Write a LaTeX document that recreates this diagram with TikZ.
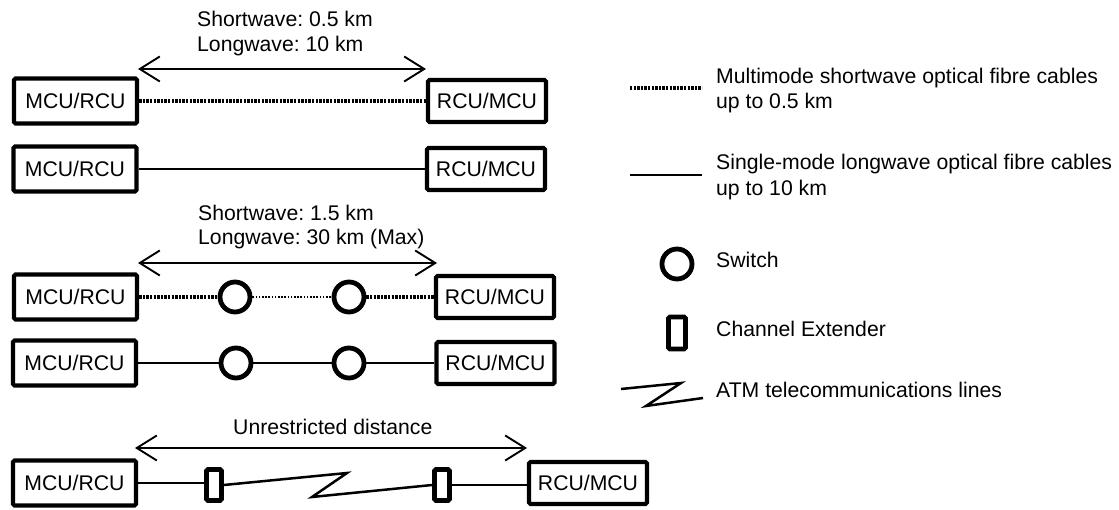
\documentclass[tikz,border=0pt]{standalone}
\usepackage{fontspec}
\setmainfont{Liberation Sans}
\usetikzlibrary{arrows.meta}
\frenchspacing

\tikzset{
  lbl/.style={anchor=base west, inner sep=0pt, font=\fontsize{21.2}{25}\selectfont},
  unitbox/.style={draw, line width=4.2pt, rounded corners=1.5pt, inner sep=0pt,
    minimum height=42pt, font=\fontsize{21.2}{25}\selectfont},
  leftunit/.style={unitbox, minimum width=123pt, minimum height=45pt},
  rightunit/.style={unitbox, minimum width=118pt},
  switchnode/.style={draw, circle, line width=4.8pt, minimum size=30pt, inner sep=0pt, fill=white},
  extender/.style={draw, line width=4.8pt, rounded corners=1.5pt, minimum width=15pt,
    minimum height=31pt, inner sep=0pt, fill=white},
  longcable/.style={line width=2.3pt},
  shortcable/.style={line width=3.3pt, dash pattern=on 2.4pt off 1.2pt},
  thincable/.style={line width=2pt, dash pattern=on 1.6pt off 1.6pt},
  atmline/.style={line width=2.5pt, line join=miter},
  span/.style={line width=1.9pt, {Straight Barb[length=20pt,width=25pt]}-{Straight Barb[length=20pt,width=25pt]}}
}

\begin{document}
\begin{tikzpicture}[x=1pt,y=-1pt]
\useasboundingbox (0,0) rectangle (1119,510);

% ---- direct links, 0.5 km / 10 km ----
\coordinate (s1a) at (138,69);
\coordinate (s1b) at (426,69);
\draw[span] (s1a) -- (s1b);
\node[lbl] (t1a) at (197,27) {Shortwave: 0.5 km};
\node[lbl] (t1b) at (197,52) {Longwave: 10 km};

\node[leftunit]  (L1) at (75.5,101) {MCU/RCU};
\node[rightunit] (R1) at (487,101) {RCU/MCU};
\draw[shortcable] (L1.east) -- (R1.west);

\node[leftunit]  (L2) at (75,169) {MCU/RCU};
\node[rightunit] (R2) at (486,169) {RCU/MCU};
\draw[longcable] (L2.east) -- (R2.west);

% ---- links through switches ----
\coordinate (s3a) at (138,263);
\coordinate (s3b) at (437,263);
\draw[span] (s3a) -- (s3b);
\node[lbl] (t3a) at (198,221) {Shortwave: 1.5 km};
\node[lbl] (t3b) at (198,245) {Longwave: 30 km (Max)};

\node[leftunit]  (L3) at (75.5,297) {MCU/RCU};
\node[rightunit] (R3) at (495,297) {RCU/MCU};
\node[switchnode] (S3a) at (235,297) {};
\node[switchnode] (S3b) at (349,297) {};
\draw[shortcable] (L3.east) -- (S3a.west);
\draw[thincable] (S3a.east) -- (S3b.west);
\draw[shortcable] (S3b.east) -- (R3.west);

\node[leftunit]  (L4) at (74.5,363) {MCU/RCU};
\node[rightunit] (R4) at (495.5,363) {RCU/MCU};
\node[switchnode] (S4a) at (236,363) {};
\node[switchnode] (S4b) at (349,363) {};
\draw[longcable] (L4.east) -- (S4a.west);
\draw[longcable] (S4a.east) -- (S4b.west);
\draw[longcable] (S4b.east) -- (R4.west);

% ---- links through channel extenders and ATM ----
\coordinate (s5a) at (135,448);
\coordinate (s5b) at (527,448);
\draw[span] (s5a) -- (s5b);
\node[lbl] (t5) at (233,435) {Unrestricted distance};

\node[leftunit]  (L5) at (74.5,483) {MCU/RCU};
\node[rightunit] (R5) at (588,483) {RCU/MCU};
\node[extender] (E5a) at (214,485) {};
\node[extender] (E5b) at (442,485) {};
\coordinate (z5a) at (347,473);
\coordinate (z5b) at (312,497);
\draw[longcable] (L5.east) -- (L5.east -| E5a.west);
\draw[atmline] (E5a.east) -- (z5a) -- (z5b) -- (E5b.west);
\draw[longcable] (E5b.east) -- (E5b.east -| R5.west);

% ---- legend ----
\coordinate (k1a) at (630,88);
\coordinate (k1b) at (702,88);
\draw[shortcable] (k1a) -- (k1b);
\node[lbl] (k1t) at (716,84) {Multimode shortwave optical fibre cables};
\node[lbl] (k1u) at (716,109) {up to 0.5 km};

\coordinate (k2a) at (630,175);
\coordinate (k2b) at (702,175);
\draw[longcable] (k2a) -- (k2b);
\node[lbl] (k2t) at (716,170) {Single-mode longwave optical fibre cables};
\node[lbl] (k2u) at (716,196) {up to 10 km};

\node[switchnode] (k3) at (677,264) {};
\node[lbl] (k3t) at (716,268) {Switch};

\node[extender, minimum width=17pt, minimum height=32pt] (k4) at (677,333) {};
\node[lbl] (k4t) at (716,337) {Channel Extender};

\coordinate (k5a) at (621,389);
\coordinate (k5b) at (681,383);
\coordinate (k5c) at (646,406);
\coordinate (k5d) at (703,398);
\draw[atmline] (k5a) -- (k5b) -- (k5c) -- (k5d);
\node[lbl] (k5t) at (716,398) {ATM telecommunications lines};
\end{tikzpicture}
\end{document}
